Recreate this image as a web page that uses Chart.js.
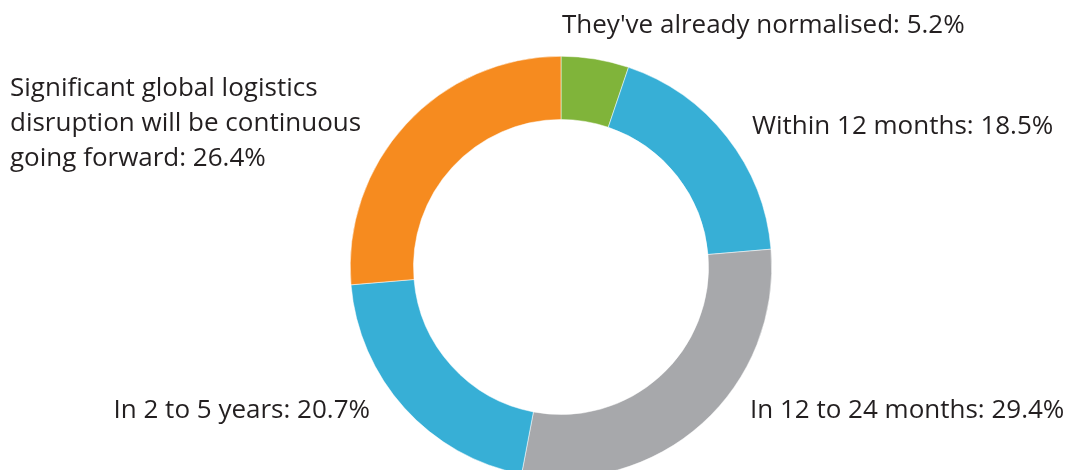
<!DOCTYPE html>
<html>
<head>
<meta charset="utf-8">
<script src="https://cdn.jsdelivr.net/npm/chart.js@4/dist/chart.umd.min.js"></script>
<style>
  html, body { margin: 0; padding: 0; background: #fff; overflow: hidden; }
  #wrap { width: 1070px; height: 500px; position: relative; }
</style>
</head>
<body>
<div id="wrap"><canvas id="grafico" width="1070" height="500"></canvas></div>
<script>
const categorias = [
  "They've already normalised",
  "Within 12 months",
  "In 12 to 24 months",
  "In 2 to 5 years",
  "Significant global logistics\ndisruption will be continuous\ngoing forward"
];
const valores = [5.2, 18.5, 29.4, 20.7, 26.4];
const cores = ["#80b43a", "#37afd6", "#a7a8ab", "#37afd6", "#f68b1f"];

// where each label's text block sits, and how it is aligned
const posLabels = [
  { x: 562, y: 26, align: "left" },
  { x: 752, y: 127, align: "left" },
  { x: 750, y: 411, align: "left" },
  { x: 370, y: 411, align: "right" },
  { x: 10, y: 124, align: "left" }
];

const fonte = '26px "Open Sans", "Noto Sans", sans-serif';
const alturaLinha = 35;

const labelsPlugin = {
  id: "labelsFora",
  afterDraw(chart) {
    const ctx = chart.ctx;
    ctx.save();
    ctx.font = fonte;
    ctx.fillStyle = "#231f20";
    ctx.textBaseline = "middle";
    categorias.forEach((cat, i) => {
      const linhas = (cat + ": " + valores[i] + "%").split("\n");
      const p = posLabels[i];
      ctx.textAlign = p.align;
      const y0 = p.y - (linhas.length - 1) * alturaLinha / 2;
      linhas.forEach((l, j) => ctx.fillText(l, p.x, y0 + j * alturaLinha));
    });
    ctx.restore();
  }
};

const ctx = document.getElementById("grafico").getContext("2d");
new Chart(ctx, {
  type: "doughnut",
  data: {
    labels: categorias,
    datasets: [{
      data: valores,
      backgroundColor: cores,
      borderColor: "#ffffff",
      borderWidth: 0.5
    }]
  },
  options: {
    responsive: false,
    animation: false,
    cutout: "70%",
    layout: { padding: { top: 56, bottom: 22, left: 350, right: 298 } },
    plugins: {
      legend: { display: false },
      tooltip: { enabled: false }
    }
  },
  plugins: [labelsPlugin]
});
</script>
</body>
</html>
